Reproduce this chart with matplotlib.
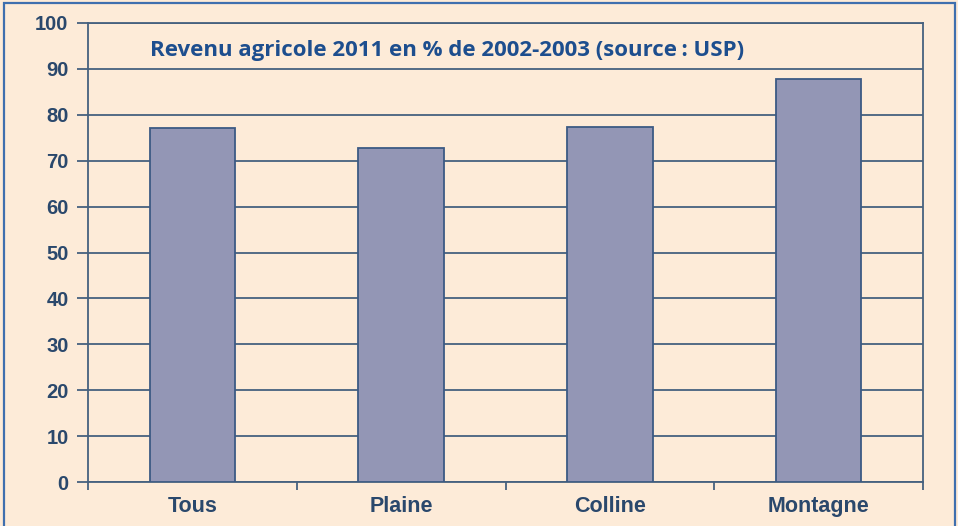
import numpy as np
import matplotlib.pyplot as plt
from matplotlib.patches import Rectangle

# Revenu agricole 2011 en % de 2002-2003
categories = ['Tous', 'Plaine', 'Colline', 'Montagne']
values = [77.2, 72.7, 77.4, 87.8]
yticks = [0, 10, 20, 30, 40, 50, 60, 70, 80, 90, 100]

bg = '#fdebd8'
bar_col = '#9396b5'
edge_col = '#3c5a84'
grid_col = '#46617f'
label_col = '#2a486c'
title_col = '#1d4e8e'

fig = plt.figure(figsize=(9.58, 5.26), dpi=100, facecolor=bg)
# blue frame around the picture
fig.patches.append(Rectangle((4/958, -0.02), 951/958, 1.02 - 3/526,
                             transform=fig.transFigure, fill=False,
                             edgecolor='#3f6fae', linewidth=1.6))

ax = fig.add_axes([88/958, 44/526, 835/958, 459/526])
ax.set_facecolor(bg)

x = np.arange(len(categories))
ax.bar(x, values, width=0.41, color=bar_col, edgecolor=edge_col,
       linewidth=1.3, zorder=3)

ax.set_xlim(-0.5, len(categories) - 0.5)
ax.set_ylim(0, 100)
ax.set_yticks(yticks)
ax.yaxis.grid(True, color=grid_col, linewidth=1.3, zorder=0)

ax.set_xticks(x)
ax.set_xticklabels(categories)
ax.set_xticks(np.arange(len(categories) + 1) - 0.5, minor=True)
ax.tick_params(axis='x', which='major', length=0, pad=10)
ax.tick_params(axis='x', which='minor', length=6, width=1.3, color=grid_col,
               direction='out')
ax.tick_params(axis='y', length=8, width=1.3, color=grid_col, pad=6)

for lab in ax.get_xticklabels():
    lab.set_fontfamily('Liberation Sans')
    lab.set_fontweight('bold')
    lab.set_fontsize(15.5)
    lab.set_color(label_col)
for lab in ax.get_yticklabels():
    lab.set_fontfamily('Liberation Sans')
    lab.set_fontweight('bold')
    lab.set_fontsize(14.5)
    lab.set_color(label_col)

for s in ax.spines.values():
    s.set_color(grid_col)
    s.set_linewidth(1.3)

ax.text(0.074, 0.94, 'Revenu agricole 2011 en % de 2002-2003 (source\u2009: USP)',
        transform=ax.transAxes, ha='left', va='center', fontsize=16,
        fontweight='bold', family=['Open Sans', 'DejaVu Sans'], color=title_col)

fig.savefig('out.png', dpi=100, facecolor=bg)
